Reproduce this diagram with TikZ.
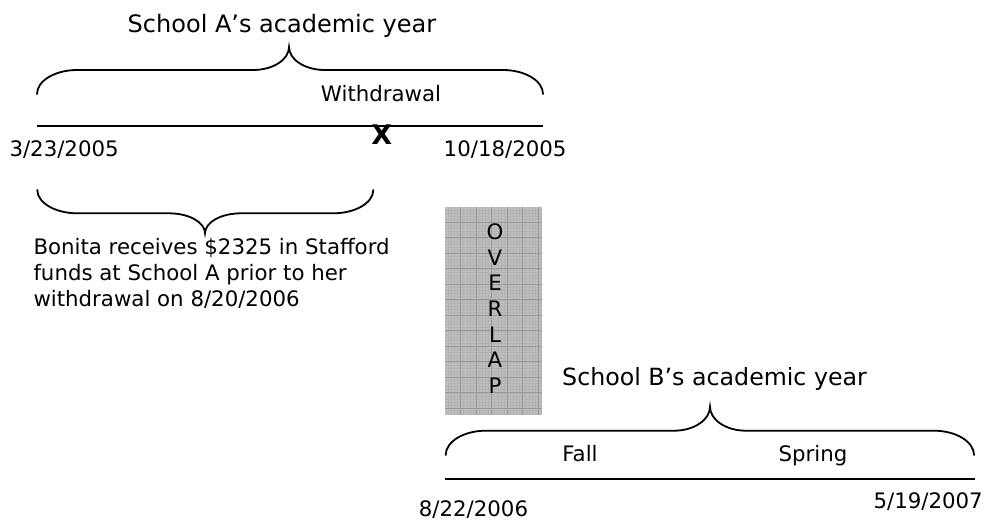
\documentclass[tikz,border=0pt]{standalone}
\usepackage{fontspec}
\setmainfont{DejaVu Sans}
\definecolor{ovfill}{RGB}{190,190,190}
\definecolor{ovminor}{RGB}{180,180,180}
\definecolor{ovmajor}{RGB}{152,152,152}
\newcommand\mybrace[6]{% x1, xtip, x2, yend, ybar, ytip
  \draw[bracestyle] (#1,#4) .. controls (#1,{#4+0.55*(#5-#4)}) and ({#1+18},#5) .. ({#1+40},#5)
    -- ({#2-36},#5) .. controls ({#2-16},#5) and (#2,{#6-0.55*(#6-#5)}) .. (#2,#6)
    .. controls (#2,{#6-0.55*(#6-#5)}) and ({#2+16},#5) .. ({#2+36},#5)
    -- ({#3-40},#5) .. controls ({#3-18},#5) and (#3,{#4+0.55*(#5-#4)}) .. (#3,#4);}
\begin{document}
\begin{tikzpicture}[x=1pt,y=-1pt,
  bracestyle/.style={line width=1.8pt,line cap=round},
  timeline/.style={line width=2pt},
  lbl/.style={inner sep=0pt,font=\fontsize{21.3}{25.7}\selectfont},
  ttl/.style={inner sep=0pt,font=\fontsize{24}{29}\selectfont},
  xmarkstyle/.style={inner sep=0pt,font=\bfseries\fontsize{27}{30}\selectfont}]
\useasboundingbox (0,0) rectangle (987,520);
\fill[white] (0,0) rectangle (987,520);

% ---- School A ----
\node[ttl,anchor=base] (titleA) at (282,32.3) {School A’s academic year};
\mybrace{37}{289}{543}{94}{70}{47}
\node[lbl,anchor=base] (withdrawal) at (381,101) {Withdrawal};
\coordinate (a1) at (37,126);
\coordinate (a2) at (543,126);
\draw[timeline] (a1) -- (a2);
\node[xmarkstyle,anchor=base] (xmark) at (381.7,144.5) {X};
\node[lbl,anchor=base west] (dA1) at (9.3,156.7) {3/23/2005};
\node[lbl,anchor=base east] (dA2) at (566.7,156.7) {10/18/2005};

\mybrace{37.3}{205}{373.3}{190}{213.3}{233.3}
\node[lbl,anchor=north west,align=left] (bonita) at (33.3,238.5)
  {Bonita receives \$2325 in Stafford\\funds at School A prior to her\\withdrawal on 8/20/2006};

% ---- Overlap ----
\fill[ovfill] (445,206.7) rectangle (541.7,415);
\foreach \i in {1,...,31} \draw[ovminor,line width=0.3pt] ({445+3.1*\i},206.7) -- ({445+3.1*\i},415);
\foreach \i in {1,...,67} \draw[ovminor,line width=0.3pt] (445,{206.7+3.1*\i}) -- (541.7,{206.7+3.1*\i});
\foreach \i in {1,...,6} \draw[ovmajor,line width=1pt] ({445+15.5*\i},206.7) -- ({445+15.5*\i},415);
\foreach \i in {1,...,13} \draw[ovmajor,line width=1pt] (445,{206.7+15.5*\i}) -- (541.7,{206.7+15.5*\i});
\node[lbl,anchor=north,align=center] (overlap) at (495,223.3) {O\\V\\E\\R\\L\\A\\P};

% ---- School B ----
\node[ttl,anchor=base west,font=\fontsize{23.7}{28}\selectfont] (titleB) at (562,385) {School B’s academic year};
\mybrace{445.7}{710}{974}{455}{430.7}{406.7}
\node[lbl,anchor=base] (fall) at (580,461.7) {Fall};
\node[lbl,anchor=base] (spring) at (813,461.7) {Spring};
\coordinate (b1) at (445,478.5);
\coordinate (b2) at (975,478.5);
\draw[timeline] (b1) -- (b2);
\node[lbl,anchor=base] (dB1) at (473.5,516.5) {8/22/2006};
\node[lbl,anchor=base east] (dB2) at (983,508) {5/19/2007};
\end{tikzpicture}
\end{document}
